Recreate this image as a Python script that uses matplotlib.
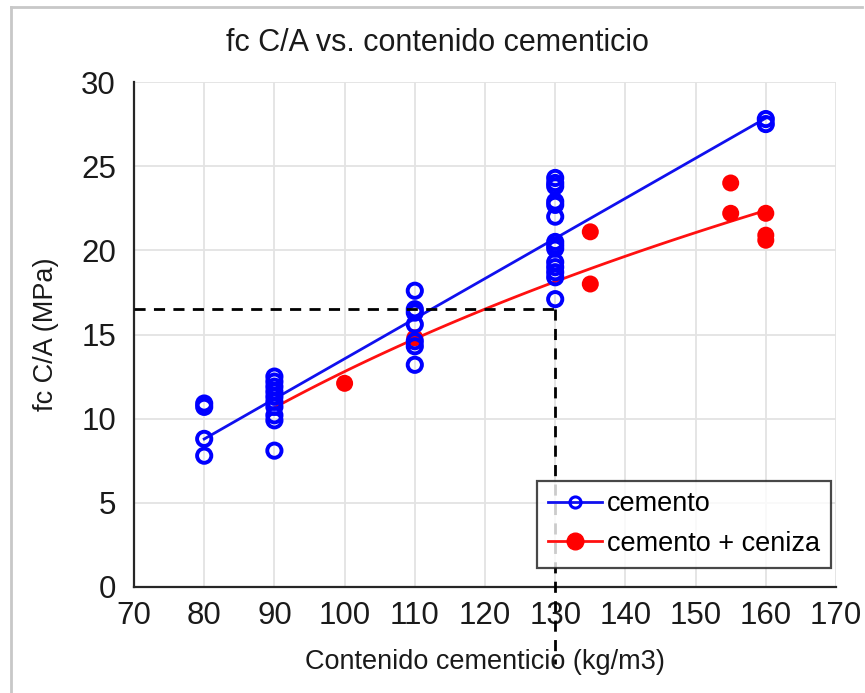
import numpy as np
import matplotlib
matplotlib.use("Agg")
import matplotlib.pyplot as plt
from matplotlib.lines import Line2D

plt.rcParams['font.family'] = ['Liberation Sans', 'DejaVu Sans']

# cemento data
cem_x = [80, 80, 80, 80,
         90, 90, 90, 90, 90, 90, 90, 90, 90, 90,
         110, 110, 110, 110, 110, 110, 110,
         130, 130, 130, 130, 130, 130, 130, 130, 130, 130, 130, 130, 130, 130,
         160, 160]
cem_y = [10.9, 10.7, 8.8, 7.8,
         12.5, 12.2, 11.9, 11.6, 11.3, 11.0, 10.7, 10.2, 9.9, 8.1,
         17.6, 16.5, 16.3, 15.6, 14.6, 14.3, 13.2,
         24.3, 24.0, 23.8, 22.9, 22.7, 22.0, 20.5, 20.3, 20.1, 19.3, 19.0, 18.7, 18.4, 17.1,
         27.8, 27.5]

# cemento + ceniza data
cen_x = [100, 110, 135, 135, 155, 155, 160, 160, 160]
cen_y = [12.1, 14.8, 21.1, 18.0, 24.0, 22.2, 22.2, 20.9, 20.6]

# trend ranges
cem_range = [80, 160]
cen_range = [90, 160]

# reference (dashed) point
ref_x = 130
ref_y = 16.5

fig = plt.figure(figsize=(8.65, 6.93), dpi=100)
ax = fig.add_axes([134/865, 1-587/693, (836-134)/865, (587-82)/693])

ax.set_xlim(70, 170)
ax.set_ylim(0, 30)
ax.set_xticks(range(70, 171, 10))
ax.set_yticks(range(0, 31, 5))
ax.grid(True, color='#e3e3e3', lw=1.3)
ax.set_axisbelow(True)
for s in ['top', 'right']:
    ax.spines[s].set_visible(False)
for s in ['left', 'bottom']:
    ax.spines[s].set_color('#262626')
    ax.spines[s].set_linewidth(1.6)
ax.tick_params(length=0, labelsize=22.5, colors='#1a1a1a')
ax.tick_params(axis='y', pad=13)
ax.tick_params(axis='x', pad=10)

# trend lines
cb, ca = np.polyfit(cem_x, cem_y, 1)
xx = np.linspace(cem_range[0], cem_range[1], 50)
ax.plot(xx, ca + cb * xx, color='#1010ee', lw=2, zorder=3)

lb, la = np.polyfit(np.log(cen_x), cen_y, 1)
xx2 = np.linspace(cen_range[0], cen_range[1], 100)
ax.plot(xx2, la + lb * np.log(xx2), color='#ff1010', lw=2, zorder=3)

ax.scatter(cen_x, cen_y, s=150, color='#ff0000', zorder=4, edgecolors='none')
ax.scatter(cem_x, cem_y, s=105, facecolors='none', edgecolors='#0000ff', linewidths=2.8, zorder=5)

# dashed reference lines
ax.plot([70, ref_x], [ref_y, ref_y], color='black', ls=(0, (4, 3)), lw=2, zorder=6)
ax.plot([ref_x, ref_x], [ref_y, -4.6], color='black', ls=(0, (4, 3)), lw=2, zorder=6, clip_on=False)

fig.text(437/865, 1-43/693, 'fc C/A vs. contenido cementicio', fontsize=22,
         ha='center', va='center', color='#1a1a1a')
ax.set_xlabel('Contenido cementicio (kg/m3)', fontsize=19.5, labelpad=13, color='#1a1a1a')
ax.set_ylabel('fc C/A (MPa)', fontsize=19.5, labelpad=16, color='#1a1a1a')

handles = [
    Line2D([], [], color='#1010ee', lw=2, marker='o', markerfacecolor='none',
           markeredgecolor='#0000ff', markeredgewidth=2.2, markersize=8),
    Line2D([], [], color='#ff1010', lw=2, marker='o', markerfacecolor='#ff0000',
           markeredgecolor='#ff0000', markersize=12),
]
leg = ax.legend(handles, ['cemento', 'cemento + ceniza'], loc='lower right',
                bbox_to_anchor=(0.993, 0.038), fontsize=19.5, frameon=True, fancybox=False,
                edgecolor='#1a1a1a', handlelength=2.0, handletextpad=0.2,
                borderpad=0.4, labelspacing=0.5, borderaxespad=0.0)
leg.get_frame().set_linewidth(1.6)
leg.set_zorder(10)

# figure border
fig.add_artist(Line2D([11/865, 11/865], [0, 1-7/693], color='#c8c8c8', lw=2, transform=fig.transFigure))
fig.add_artist(Line2D([11/865, 862/865], [1-7/693, 1-7/693], color='#c8c8c8', lw=2, transform=fig.transFigure))

fig.savefig('out.png', dpi=100)
